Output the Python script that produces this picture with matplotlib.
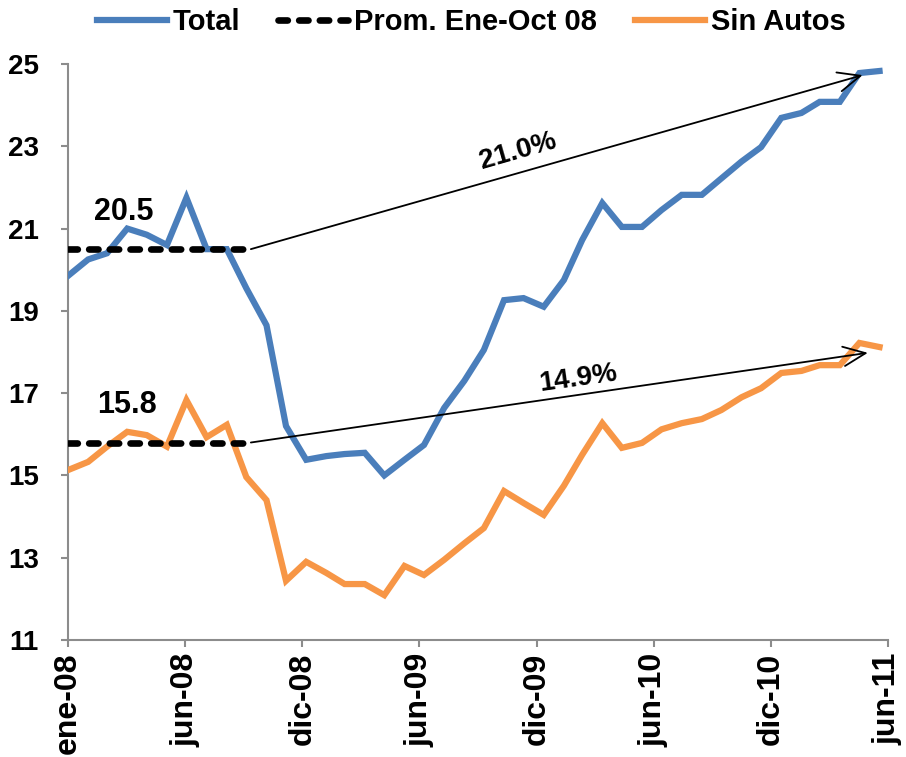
import numpy as np
import pandas as pd
import matplotlib
matplotlib.use("Agg")
import matplotlib.pyplot as plt

plt.rcParams['font.family'] = ['Liberation Sans', 'DejaVu Sans']
plt.rcParams['font.weight'] = 'bold'

# ---- data ----
dates = pd.date_range('2008-01-01', periods=42, freq='MS')
total = [19.85, 20.25, 20.4, 21.0, 20.85, 20.6, 21.75, 20.5, 20.5, 19.55,
         18.65, 16.2, 15.38, 15.47, 15.52, 15.55, 15.0, 15.38, 15.74, 16.64,
         17.3, 18.05, 19.26, 19.31, 19.1, 19.75, 20.72, 21.62, 21.04, 21.04,
         21.45, 21.82, 21.82, 22.22, 22.63, 22.98, 23.69, 23.81, 24.08, 24.08,
         24.78, 24.83]
sin_autos = [15.13, 15.33, 15.7, 16.06, 15.98, 15.7, 16.83, 15.93, 16.23, 14.96,
             14.4, 12.44, 12.9, 12.63, 12.36, 12.36, 12.09, 12.8, 12.58, 12.95,
             13.35, 13.72, 14.62, 14.33, 14.04, 14.75, 15.5, 16.27, 15.67, 15.79,
             16.12, 16.27, 16.37, 16.59, 16.9, 17.12, 17.49, 17.54, 17.68, 17.68,
             18.22, 18.12]
prom_total = 20.5
prom_sin = 15.8
n_prom = 10  # ene-08 .. oct-08
growth_total = "21.0%"
growth_sin = "14.9%"
tick_labels = ['ene-08', 'jun-08', 'dic-08', 'jun-09', 'dic-09', 'jun-10', 'dic-10', 'jun-11']
yticks = [11, 13, 15, 17, 19, 21, 23, 25]

start = pd.Timestamp('2008-01-01')
x = np.array((dates - start).days, dtype=float)
tick_pos = [180 * k for k in range(len(tick_labels))]

def day(s):
    return float((pd.Timestamp(s) - start).days)

blue = '#4A7EBB'
orange = '#F79646'
gray = '#8C8C8C'

fig = plt.figure(figsize=(9.06, 7.57), dpi=100)
ax = fig.add_axes([68/906, 117/757, 820/906, 576/757])

l1, = ax.plot(x, total, color=blue, lw=4.5, solid_joinstyle='miter', label='Total', zorder=3)
l2, = ax.plot(x[:n_prom], [prom_total]*n_prom, color='black', lw=4.8,
              dashes=(1.4, 1.7), dash_capstyle='round', label='Prom. Ene-Oct 08', zorder=4)
ax.plot(x[:n_prom], [prom_sin]*n_prom, color='black', lw=4.8,
        dashes=(1.4, 1.7), dash_capstyle='round', zorder=4)
l3, = ax.plot(x, sin_autos, color=orange, lw=4.5, solid_joinstyle='miter', label='Sin Autos', zorder=3)

# arrows
arrowprops = dict(arrowstyle='->,head_length=0.8,head_width=0.35', color='black', lw=1.3,
                  shrinkA=0, shrinkB=0, mutation_scale=20)
ax.annotate('', xy=(day('2011-05-06'), 24.73), xytext=(day('2008-10-08'), prom_total),
            arrowprops=arrowprops, zorder=5)
ax.annotate('', xy=(day('2011-05-14'), 17.98), xytext=(day('2008-10-08'), prom_sin),
            arrowprops=arrowprops, zorder=5)

ax.text(86, 21.4, f"{prom_total:.1f}", fontsize=22, fontweight='bold', ha='center', va='center')
ax.text(91, 16.71, f"{prom_sin:.1f}", fontsize=22, fontweight='bold', ha='center', va='center')
ax.text(692, 22.88, growth_total, fontsize=20, fontweight='bold', ha='center', va='center',
        rotation=16, rotation_mode='anchor')
ax.text(784, 17.36, growth_sin, fontsize=20, fontweight='bold', ha='center', va='center',
        rotation=8, rotation_mode='anchor')

ax.set_xlim(0, 1260)
ax.set_ylim(11, 25)
ax.set_yticks(yticks)
ax.set_yticklabels([str(v) for v in yticks], fontsize=20, fontweight='bold')
ax.set_xticks(tick_pos)
ax.set_xticklabels(tick_labels, rotation=90, fontsize=23, fontweight='bold', va='top', ha='center')

for s in ['top', 'right']:
    ax.spines[s].set_visible(False)
for s in ['left', 'bottom']:
    ax.spines[s].set_color(gray)
    ax.spines[s].set_linewidth(1.5)
ax.tick_params(axis='both', color=gray, width=1.5, length=5, direction='out')
ax.tick_params(axis='y', pad=16)
ax.tick_params(axis='x', pad=4)

fig.legend(handles=[l1, l2, l3], loc='center', bbox_to_anchor=(471/906, 1 - 22/757),
           ncol=3, frameon=False, handlelength=2.4, handletextpad=0.2,
           columnspacing=1.3, prop={'weight': 'bold', 'size': 21})

fig.savefig('out.png', dpi=100)
